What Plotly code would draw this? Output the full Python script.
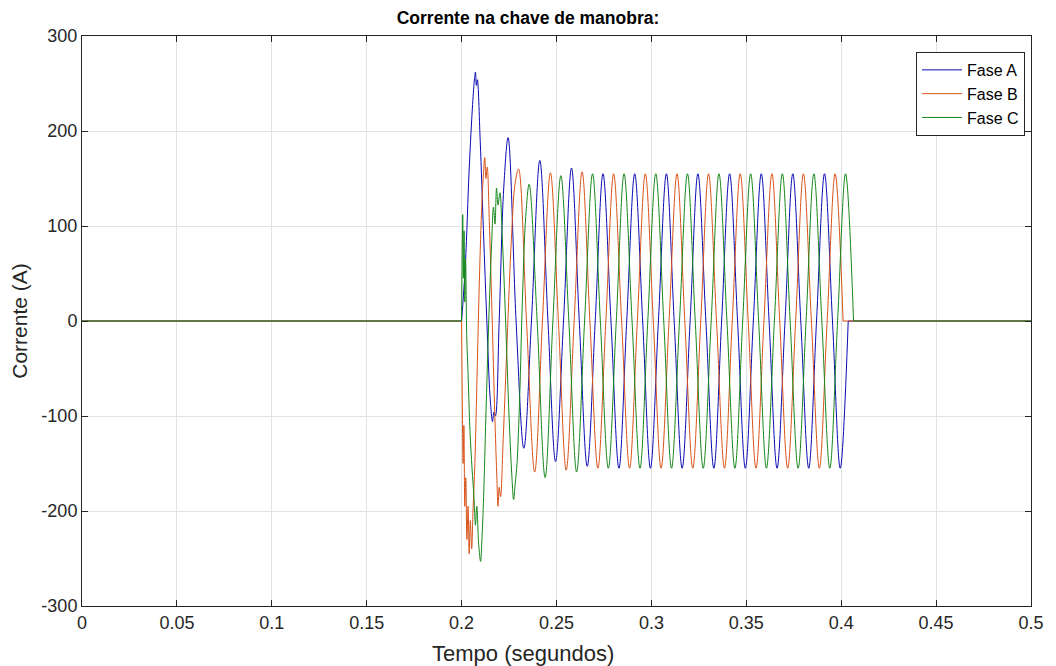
import plotly.graph_objects as go

# ---- data (time in s, current in A) ----
fase_a_t = [0.2000, 0.2020, 0.2040, 0.2058, 0.2068, 0.2073, 0.2078, 0.2083, 0.2098, 0.2115,
            0.2133, 0.2150, 0.2163, 0.2170, 0.2178, 0.2198, 0.2222, 0.2245, 0.2287, 0.2328,
            0.2368, 0.2412, 0.2455, 0.2495, 0.2537, 0.2579, 0.2620, 0.2662, 0.2704, 0.2745,
            0.2787, 0.2829, 0.2870, 0.2912, 0.2954, 0.2995, 0.3037, 0.3079, 0.3120, 0.3162,
            0.3204, 0.3245, 0.3287, 0.3329, 0.3370, 0.3412, 0.3454, 0.3495, 0.3537, 0.3579,
            0.3620, 0.3662, 0.3704, 0.3745, 0.3787, 0.3829, 0.3870, 0.3912, 0.3954, 0.3995,
            0.4037]
fase_a_i = [0, 60, 160, 228, 255, 262, 248, 254, 190, 95,
            0, -80, -106, -96, -100, 0, 140, 193, 0, -134,
            0, 169, 0, -148, 0, 161, 0, -153, 0, 155,
            0, -155, 0, 155, 0, -155, 0, 155, 0, -155,
            0, 155, 0, -155, 0, 155, 0, -155, 0, 155,
            0, -155, 0, 155, 0, -155, 0, 155, 0, -155,
            0]

fase_b_t = [0.2000, 0.2004, 0.2008, 0.2012, 0.2017, 0.2022, 0.2028, 0.2034, 0.2040, 0.2046,
            0.2053, 0.2060, 0.2070, 0.2080, 0.2092, 0.2105, 0.2115, 0.2122, 0.2128, 0.2135,
            0.2146, 0.2160, 0.2175, 0.2185, 0.2192, 0.2198, 0.2205, 0.2220, 0.2240, 0.2262,
            0.2282, 0.2300, 0.2342, 0.2385, 0.2426, 0.2468, 0.2510, 0.2551, 0.2593, 0.2635,
            0.2676, 0.2718, 0.2760, 0.2801, 0.2843, 0.2885, 0.2926, 0.2968, 0.3010, 0.3051,
            0.3093, 0.3135, 0.3176, 0.3218, 0.3260, 0.3301, 0.3343, 0.3385, 0.3426, 0.3468,
            0.3510, 0.3551, 0.3593, 0.3635, 0.3676, 0.3718, 0.3760, 0.3801, 0.3843, 0.3885,
            0.3926, 0.3968, 0.4010]
fase_b_i = [0, -90, -150, -110, -195, -165, -230, -195, -245, -210,
            -240, -200, -150, -70, 30, 115, 155, 172, 150, 162,
            105, 10, -100, -160, -195, -175, -185, -120, -20, 85,
            145, 160, 0, -159, 0, 156, 0, -157, 0, 157,
            0, -155, 0, 155, 0, -155, 0, 155, 0, -155,
            0, 155, 0, -155, 0, 155, 0, -155, 0, 155,
            0, -155, 0, 155, 0, -155, 0, 155, 0, -155,
            0, 155, 0]

fase_c_t = [0.2000, 0.2003, 0.2006, 0.2009, 0.2013, 0.2017, 0.2021, 0.2027, 0.2034, 0.2044,
            0.2055, 0.2065, 0.2073, 0.2080, 0.2090, 0.2100, 0.2107, 0.2116, 0.2128, 0.2143,
            0.2158, 0.2168, 0.2176, 0.2184, 0.2192, 0.2202, 0.2214, 0.2232, 0.2250, 0.2264,
            0.2274, 0.2282, 0.2292, 0.2306, 0.2320, 0.2338, 0.2356, 0.2398, 0.2440, 0.2481,
            0.2523, 0.2565, 0.2606, 0.2648, 0.2690, 0.2731, 0.2773, 0.2815, 0.2856, 0.2898,
            0.2940, 0.2981, 0.3023, 0.3065, 0.3106, 0.3148, 0.3190, 0.3231, 0.3273, 0.3315,
            0.3356, 0.3398, 0.3440, 0.3481, 0.3523, 0.3565, 0.3606, 0.3648, 0.3690, 0.3731,
            0.3773, 0.3815, 0.3856, 0.3898, 0.3940, 0.3981, 0.4023, 0.4065]
fase_c_i = [0, 70, 112, 45, 95, 20, 65, -15, -55, -115,
            -155, -185, -215, -195, -235, -253, -230, -185, -100, 0,
            80, 120, 102, 140, 122, 135, 90, 0, -100, -160,
            -188, -172, -150, -80, 20, 110, 144, 0, -165, 0,
            153, 0, -159, 0, 155, 0, -155, 0, 155, 0,
            -155, 0, 155, 0, -155, 0, 155, 0, -155, 0,
            155, 0, -155, 0, 155, 0, -155, 0, 155, 0,
            -155, 0, 155, 0, -155, 0, 155, 0]

t_inicio = 0.0
t_fim = 0.5

x_ticks = [0, 0.05, 0.1, 0.15, 0.2, 0.25, 0.3, 0.35, 0.4, 0.45, 0.5]
x_tick_labels = ["0", "0.05", "0.1", "0.15", "0.2", "0.25", "0.3", "0.35", "0.4", "0.45", "0.5"]
y_ticks = [-300, -200, -100, 0, 100, 200, 300]
y_tick_labels = ["-300", "-200", "-100", "0", "100", "200", "300"]

series = [
    ("Fase A", fase_a_t, fase_a_i, "#0a0ab4"),
    ("Fase B", fase_b_t, fase_b_i, "#d95319"),
    ("Fase C", fase_c_t, fase_c_i, "#16881a"),
]

FONT = "Liberation Sans, Arial, sans-serif"

fig = go.Figure()
for name, t, i, color in series:
    # zero before switching, active waveform, zero after interruption
    xs = [t_inicio, t[0], None] + list(t) + [None, t[-1], t_fim]
    ys = [0, 0, None] + list(i) + [None, 0, 0]
    fig.add_trace(go.Scatter(
        x=xs, y=ys, mode="lines", name=name,
        line=dict(color=color, width=1, shape="spline", smoothing=1.0),
        connectgaps=False,
    ))

axis_common = dict(
    showline=True, mirror="ticks", linecolor="#262626", linewidth=1,
    ticks="inside", ticklen=6, tickcolor="#262626", tickwidth=1,
    showgrid=True, gridcolor="#e2e2e2", gridwidth=1, zeroline=False,
    tickfont=dict(size=18, color="#262626", family=FONT),
)

fig.update_xaxes(range=[0, 0.5], tickvals=x_ticks, ticktext=x_tick_labels, **axis_common)
fig.update_yaxes(range=[-300, 300], tickvals=y_ticks, ticktext=y_tick_labels,
                 title=dict(text="Corrente (A)", standoff=8,
                            font=dict(size=21, color="#262626", family=FONT)),
                 **axis_common)

fig.update_layout(
    width=1056, height=666,
    margin=dict(l=82, r=14, t=36, b=60),
    plot_bgcolor="white", paper_bgcolor="white",
    font=dict(family=FONT, color="#262626"),
    title=dict(text="<b>Corrente na chave de manobra:</b>", x=0.5, xanchor="center",
               y=1 - 18 / 666, yanchor="middle",
               font=dict(size=17.5, color="black", family=FONT)),
    legend=dict(x=0.9937, xanchor="right", y=0.972, yanchor="top",
                bgcolor="white", bordercolor="#262626", borderwidth=1,
                font=dict(size=16, color="black", family=FONT),
                itemwidth=40, tracegroupgap=0),
    annotations=[dict(text="Tempo (segundos)", xref="paper", yref="paper",
                      x=(528 - 82) / 960, y=(606 - 653) / 570, xanchor="center", yanchor="middle",
                      showarrow=False,
                      font=dict(size=22, color="#262626", family=FONT))],
    showlegend=True,
)

fig.write_html("out.html")
